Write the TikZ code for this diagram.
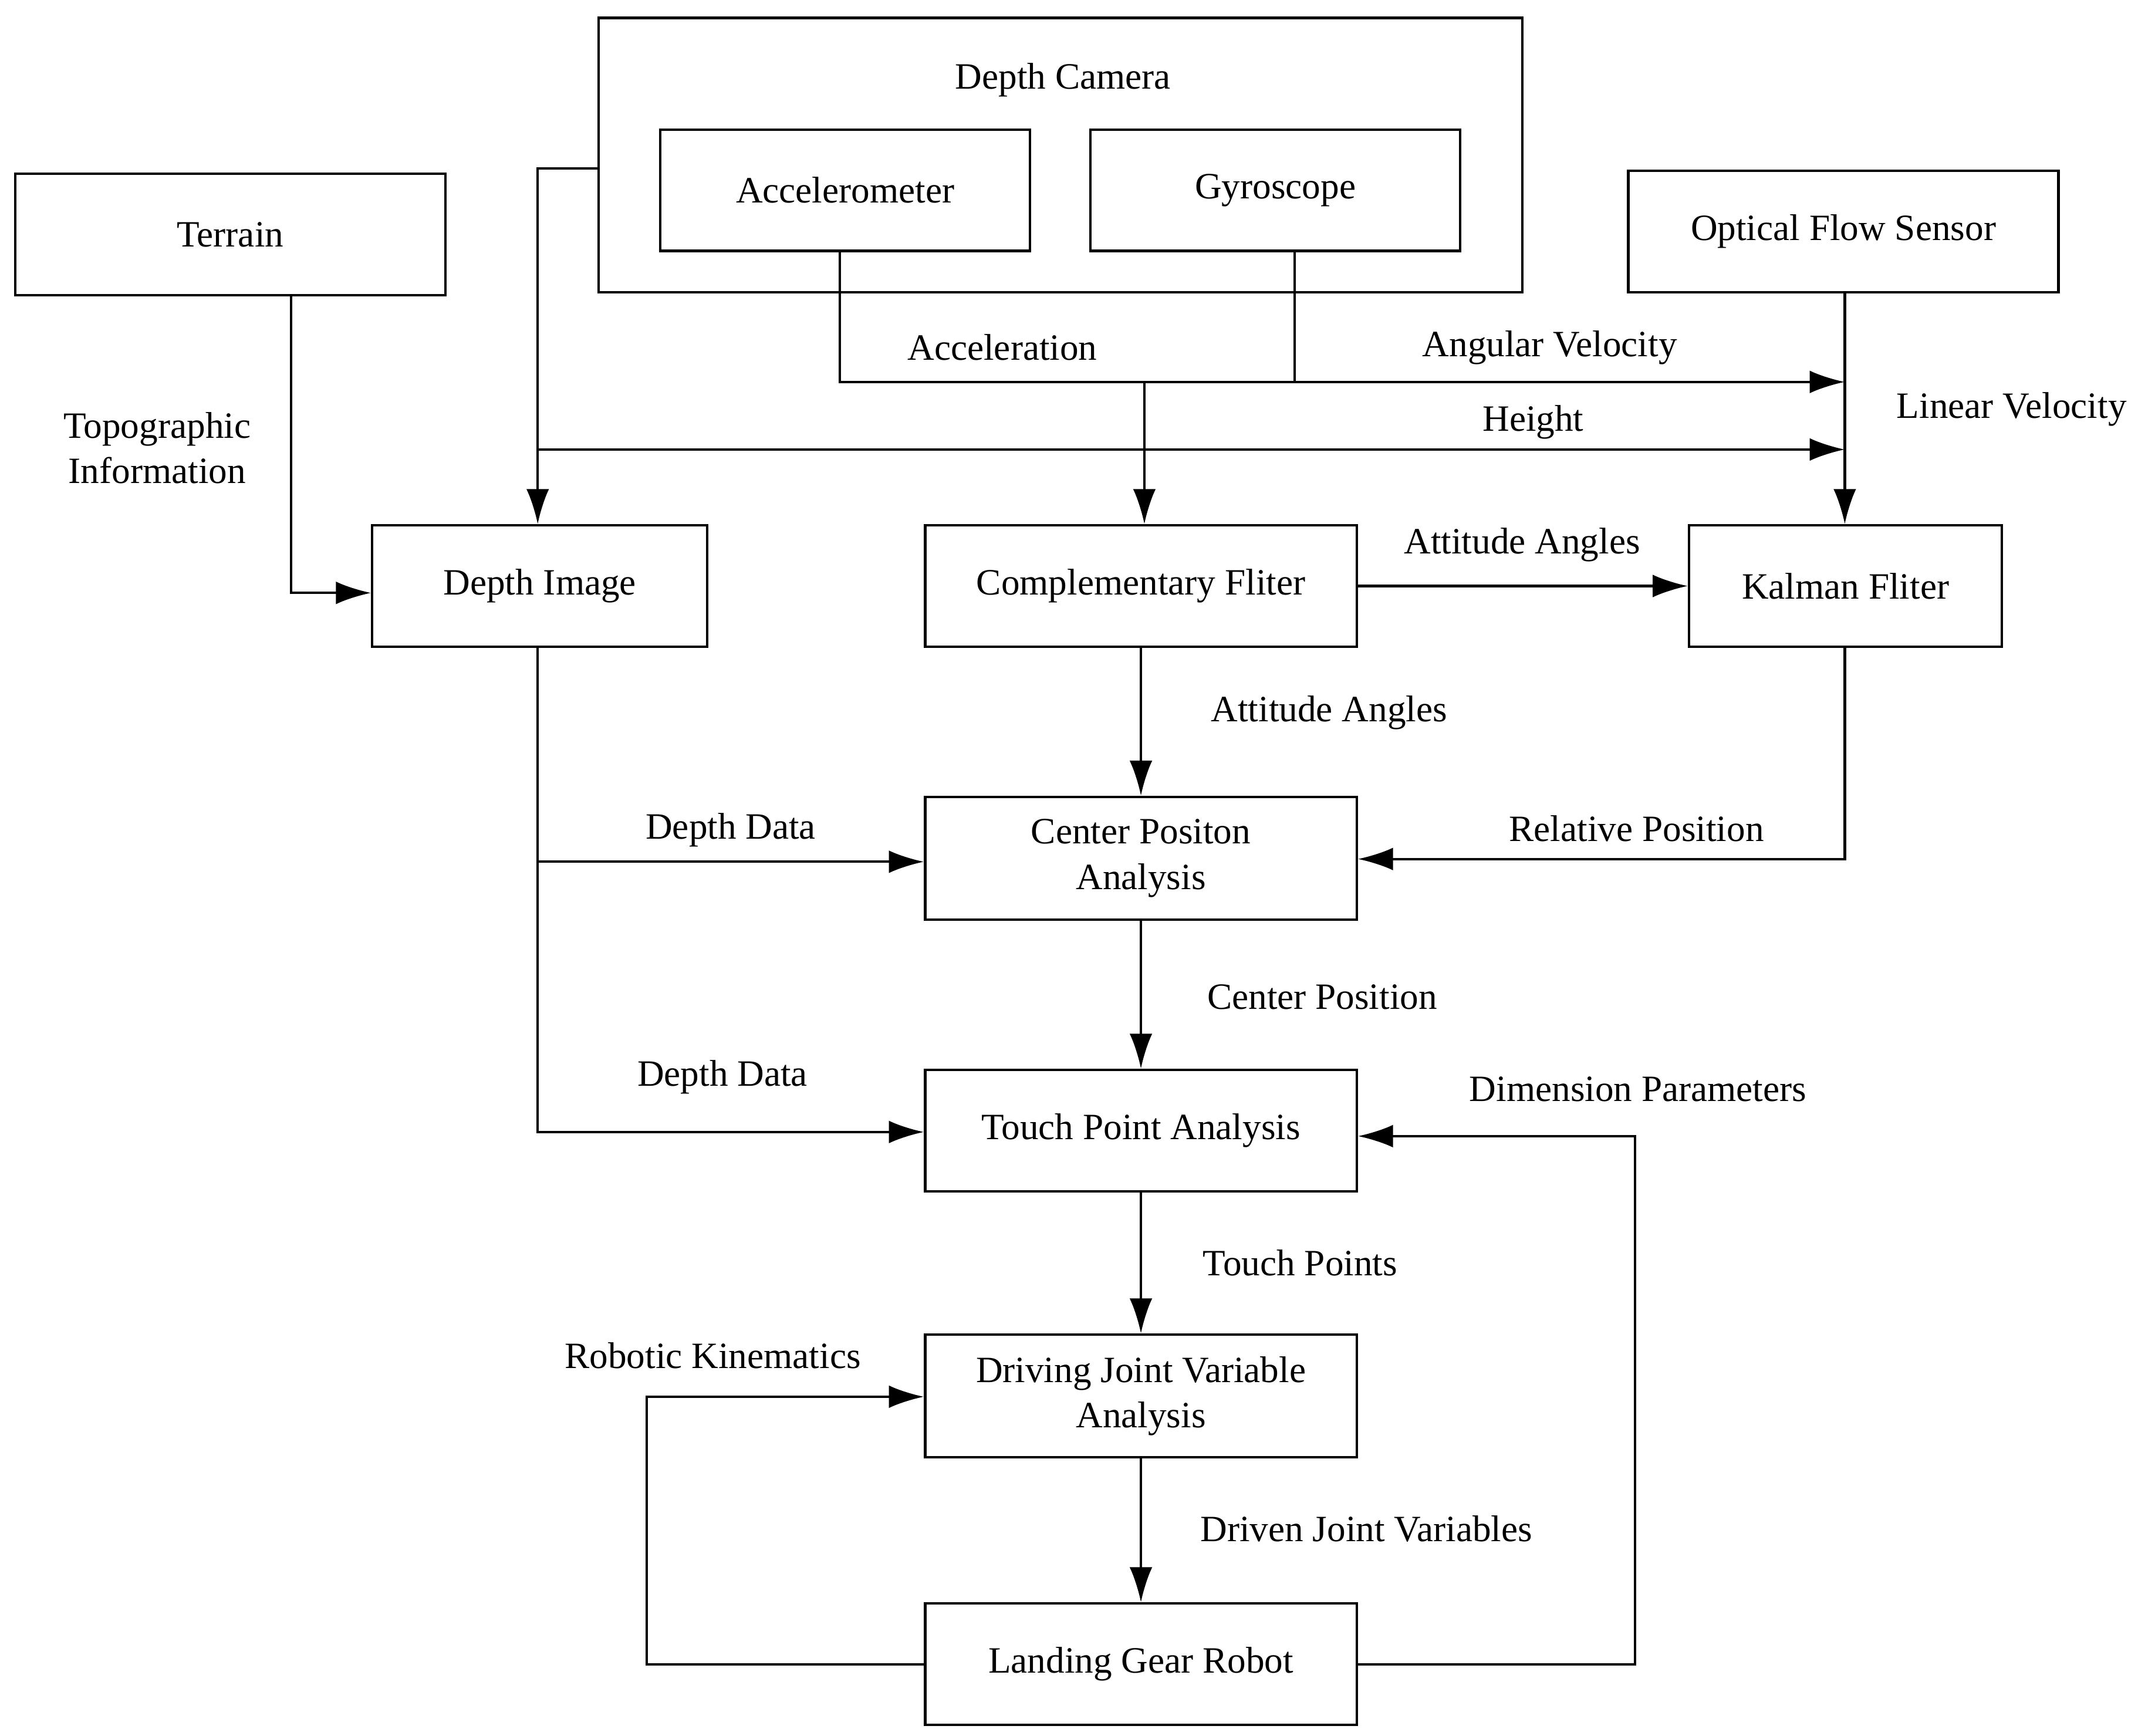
\documentclass[tikz,border=0pt]{standalone}
\usepackage{fontspec}
\setmainfont{Liberation Serif}
\usetikzlibrary{arrows.meta}
\begin{document}
\begin{tikzpicture}[x=0.0235cm,y=-0.0235cm,
  box/.style={draw,line width=1.2pt,inner sep=0pt},
  ln/.style={line width=1.2pt},
  ar/.style={line width=1.2pt,-{Latex[length=17pt,width=11pt]}},
  lb/.style={font=\fontsize{18}{22}\selectfont,align=center},
  every node/.style={font=\fontsize{18}{22}\selectfont}]
\useasboundingbox[fill=white] (0,0) rectangle (1563,1259);
\newcommand{\bx}[6]{\node[box,minimum width=#4*0.0235cm,minimum height=#5*0.0235cm,align=center] (#1) at (#2,#3) {#6};}
\draw[ln] (434,13) rectangle (1104,212);
\coordinate (dcl) at (434,122);
\node[lb] at (771,58) {Depth Camera};
\bx{acc}{613}{138}{268}{88}{Accelerometer}
\bx{gyr}{925}{138}{268}{88}{Gyroscope}
\bx{ter}{167}{170}{312}{88}{Terrain}
\bx{ofs}{1337}{168}{312}{88}{Optical Flow Sensor}
\bx{di}{391.5}{425}{243}{88}{Depth Image}
\bx{cf}{827.5}{425}{313}{88}{Complementary Fliter}
\bx{kf}{1338.5}{425}{227}{88}{Kalman Fliter}
\bx{cp}{827.5}{622.5}{313}{89}{Center Positon\\Analysis}
\bx{tp}{827.5}{820}{313}{88}{Touch Point Analysis}
\bx{dj}{827.5}{1012.5}{313}{89}{Driving Joint Variable\\Analysis}
\bx{lg}{827.5}{1207}{313}{88}{Landing Gear Robot}
% depth camera -> depth image
\draw[ar] (dcl) -- (390,122) -- (di.north -| 390,0);
\coordinate (hs) at (390,326); \coordinate (he) at (1338,326);
\draw[ar] (hs) -- (he);
\node[lb] at (1112,306) {Height};
\coordinate (ae) at (1338,277);
\draw[ar] (acc.south -| 609,0) -- (609,277) -- (ae);
\draw[ln] (gyr.south -| 939,0) -- (939,277);
\draw[ar] (830,277) -- (cf.north -| 830,0);
\node[lb] at (727,252) {Acceleration};
\node[lb] at (1124,252) {Angular Velocity};
\draw[ar] (ofs.south -| 1338,0) -- (kf.north -| 1338,0);
\node[lb] at (1459,297) {Linear Velocity};
\draw[ar] (ter.south -| 211,0) -- (211,430) -- (di.west |- 0,430);
\node[lb] at (114,325) {Topographic\\Information};
\draw[ar] (cf.east) -- (kf.west);
\node[lb] at (1104,395) {Attitude Angles};
\draw[ar] (cf.south) -- (cp.north);
\node[lb] at (964,517) {Attitude Angles};
\draw[ar] (kf.south -| 1338,0) -- (1338,623) -- (cp.east |- 0,623);
\node[lb] at (1187,601) {Relative Position};
\draw[ar] (di.south -| 390,0) -- (390,821) -- (tp.west |- 0,821);
\draw[ar] (390,625) -- (cp.west |- 0,625);
\node[lb] at (530,602) {Depth Data};
\node[lb] at (524,781) {Depth Data};
\draw[ar] (cp.south) -- (tp.north);
\node[lb] at (959,723) {Center Position};
\draw[ar] (lg.east) -- (1186,1207) -- (1186,824) -- (tp.east |- 0,824);
\node[lb] at (1188,790) {Dimension Parameters};
\draw[ar] (tp.south) -- (dj.north);
\node[lb] at (943,916) {Touch Points};
\draw[ar] (lg.west) -- (469,1207) -- (469,1013) -- (dj.west |- 0,1013);
\node[lb] at (517,983) {Robotic Kinematics};
\draw[ar] (dj.south) -- (lg.north);
\node[lb] at (991,1109) {Driven Joint Variables};
\end{tikzpicture}
\end{document}
